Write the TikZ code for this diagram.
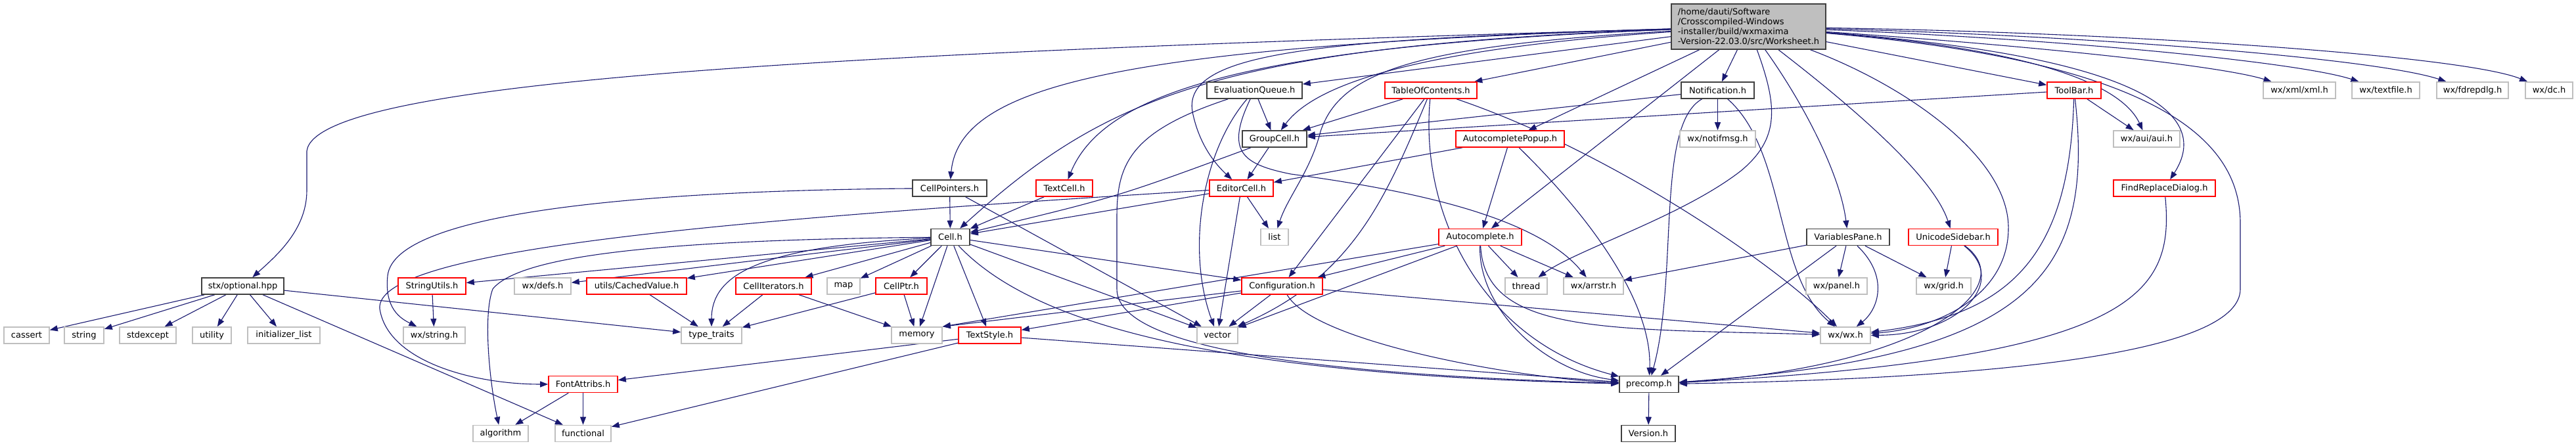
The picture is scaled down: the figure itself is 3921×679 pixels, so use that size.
\documentclass[tikz,border=0pt]{standalone}
\usepackage{fontspec}
\setmainfont{DejaVu Sans}
\usetikzlibrary{arrows.meta}
\definecolor{edgec}{HTML}{191970}
\definecolor{boxgray}{HTML}{BFBFBF}
\definecolor{boxdark}{HTML}{404040}
\definecolor{boxred}{HTML}{FF0000}
\pgfdeclarelayer{bg}
\pgfsetlayers{bg,main}
\begin{document}
\begin{tikzpicture}[x=1pt,y=-1pt,
 nd/.style={draw, line width=1.6pt, minimum height=25pt, inner sep=0pt, fill=white, font=\fontsize{13}{15}\selectfont},
 bk/.style={nd, draw=boxdark},
 rd/.style={nd, draw=boxred},
 gy/.style={nd, draw=boxgray},
 ed/.style={draw=edgec, line width=1.1pt, -{Triangle[length=12pt,width=9pt]}},
]
\useasboundingbox (0,0) rectangle (3921,679);
% row 0
\node[bk, fill=boxgray, minimum width=235pt, minimum height=69pt, align=left] (W) at (2661.5,40.5) {/home/dauti/Software\\/Crosscompiled-Windows\\-installer/build/wxmaxima\\-Version-22.03.0/src/Worksheet.h};
% row 1
\node[bk, minimum width=145pt] (EQ) at (1909.5,137.5) {EvaluationQueue.h};
\node[rd, minimum width=140pt] (TOC) at (2178,137.5) {TableOfContents.h};
\node[bk, minimum width=111pt] (NOT) at (2614.5,137.5) {Notification.h};
\node[rd, minimum width=82pt] (TB) at (3157,137.5) {ToolBar.h};
\node[gy, minimum width=110pt] (XML) at (3500,137.5) {wx/xml/xml.h};
\node[gy, minimum width=103pt] (TXF) at (3631.5,137.5) {wx/textfile.h};
\node[gy, minimum width=109pt] (FRP) at (3763.5,137.5) {wx/fdrepdlg.h};
\node[gy, minimum width=72pt] (DC) at (3880,137.5) {wx/dc.h};
% row 2
\node[bk, minimum width=98pt] (GC) at (1940,211.5) {GroupCell.h};
\node[rd, minimum width=165pt] (ACP) at (2298.5,211.5) {AutocompletePopup.h};
\node[gy, minimum width=115pt] (NMSG) at (2614.5,211.5) {wx/notifmsg.h};
\node[gy, minimum width=101pt] (AUI) at (3267.5,211.5) {wx/aui/aui.h};
% row 3
\node[bk, minimum width=113pt] (CP) at (1445.5,286.5) {CellPointers.h};
\node[rd, minimum width=86pt] (TC) at (1620,286.5) {TextCell.h};
\node[rd, minimum width=97pt] (EC) at (1889.5,286.5) {EditorCell.h};
\node[rd, minimum width=155pt] (FRD) at (3294.5,286.5) {FindReplaceDialog.h};
% row 4
\node[bk, minimum width=59pt] (CELL) at (1446.5,361) {Cell.h};
\node[gy, minimum width=42pt] (LIST) at (1940,361) {list};
\node[rd, minimum width=126pt] (AC) at (2253,361) {Autocomplete.h};
\node[bk, minimum width=126pt] (VP) at (2813,361) {VariablesPane.h};
\node[rd, minimum width=136pt] (US) at (2973,361) {UnicodeSidebar.h};
% row 5
\node[bk, minimum width=125pt] (STX) at (369.5,435.5) {stx/optional.hpp};
\node[rd, minimum width=103pt] (SU) at (657.5,435.5) {StringUtils.h};
\node[gy, minimum width=86pt] (DEFS) at (826,435.5) {wx/defs.h};
\node[rd, minimum width=152pt] (CV) at (969,435.5) {utils/CachedValue.h};
\node[rd, minimum width=115pt] (CI) at (1177.5,435.5) {CellIterators.h};
\node[gy, minimum width=50pt] (MAP) at (1284,435.5) {map};
\node[rd, minimum width=78pt] (CPTR) at (1372,435.5) {CellPtr.h};
\node[rd, minimum width=123pt] (CONF) at (1951.5,435.5) {Configuration.h};
\node[gy, minimum width=64pt] (THR) at (2323,435.5) {thread};
\node[gy, minimum width=91pt] (ARR) at (2425.5,435.5) {wx/arrstr.h};
\node[gy, minimum width=93pt] (PNL) at (2795.5,435.5) {wx/panel.h};
\node[gy, minimum width=83pt] (GRID) at (2958.5,435.5) {wx/grid.h};
% row 6
\node[gy, minimum width=69pt] (CAS) at (40.5,510.5) {cassert};
\node[gy, minimum width=60pt] (STR) at (128,510.5) {string};
\node[gy, minimum width=86pt] (SEX) at (225,510.5) {stdexcept};
\node[gy, minimum width=59pt] (UTIL) at (322.5,510.5) {utility};
\node[gy, minimum width=110pt] (INIT) at (432,510.5) {initializer\_list};
\node[gy, minimum width=94pt] (WXS) at (661,510.5) {wx/string.h};
\node[gy, minimum width=92pt] (TT) at (1083,510.5) {type\_traits};
\node[gy, minimum width=77pt] (MEM) at (1395.5,510.5) {memory};
\node[rd, minimum width=95pt] (TS) at (1506.5,510.5) {TextStyle.h};
\node[gy, minimum width=62pt] (VEC) at (1853,510.5) {vector};
\node[gy, minimum width=76pt] (WXWX) at (2809,510.5) {wx/wx.h};
% row 7
\node[rd, minimum width=105pt] (FA) at (887.5,585) {FontAttribs.h};
\node[bk, minimum width=90pt] (PRE) at (2510,585) {precomp.h};
% row 8
\node[gy, minimum width=84pt] (ALG) at (762,660) {algorithm};
\node[gy, minimum width=85pt] (FUN) at (887.5,660) {functional};
\node[bk, minimum width=82pt] (VER) at (2509,660) {Version.h};

\begin{pgfonlayer}{bg}
% Worksheet.h
\draw[ed] (W) .. controls (1300,80) and (480,120) .. (467,230) -- (467,290) .. controls (467,350) and (420,390) .. (STX);
\draw[ed] (W) .. controls (1700,70) and (1460,130) .. (CP);
\draw[ed] (W) .. controls (1850,70) and (1680,150) .. (CELL);
\draw[ed] (W) .. controls (1900,70) and (1680,140) .. (TC);
\draw[ed] (W) .. controls (2000,60) and (1800,80) .. (1815,170) .. controls (1825,220) and (1850,250) .. (EC);
\draw[ed] (W) -- (EQ);
\draw[ed] (W) .. controls (2150,75) and (2000,130) .. (GC);
\draw[ed] (W) .. controls (2150,70) and (2040,110) .. (2010,200) .. controls (1995,260) and (1960,300) .. (LIST);
\draw[ed] (W) -- (TOC);
\draw[ed] (W) -- (ACP);
\draw[ed] (W) -- (AC);
\draw[ed] (W) -- (NOT);
\draw[ed] (W) .. controls (2705,160) and (2710,210) .. (2650,260) .. controls (2560,330) and (2400,380) .. (THR);
\draw[ed] (W) .. controls (2740,150) and (2800,260) .. (VP);
\draw[ed] (W) .. controls (2790,140) and (2940,260) .. (US);
\draw[ed] (W) .. controls (2900,130) and (3060,240) .. (3057,350) .. controls (3055,450) and (2950,500) .. (WXWX);
\draw[ed] (W) -- (TB);
\draw[ed] (W) .. controls (3100,75) and (3230,130) .. (AUI);
\draw[ed] (W) .. controls (3250,85) and (3370,170) .. (FRD);
\draw[ed] (W) .. controls (3300,95) and (3410,220) .. (3410,340) -- (3410,440) .. controls (3410,530) and (3100,575) .. (PRE);
\draw[ed] (W) .. controls (3100,70) and (3380,100) .. (XML);
\draw[ed] (W) .. controls (3150,60) and (3500,95) .. (TXF);
\draw[ed] (W) .. controls (3200,55) and (3620,90) .. (FRP);
\draw[ed] (W) .. controls (3250,50) and (3750,85) .. (DC);
% EvaluationQueue.h
\draw[ed] (EQ) -- (GC);
\draw[ed] (EQ) .. controls (1830,230) and (1805,380) .. (VEC);
\draw[ed] (EQ) .. controls (1720,200) and (1700,250) .. (1700,330) -- (1700,440) .. controls (1700,530) and (2000,570) .. (PRE);
\draw[ed] (EQ) .. controls (1865,230) and (1890,250) .. (1965,265) .. controls (2150,290) and (2340,330) .. (ARR);
% TableOfContents.h
\draw[ed] (TOC) -- (GC);
\draw[ed] (TOC) -- (CONF);
\draw[ed] (TOC) .. controls (2110,300) and (2060,420) .. (VEC);
\draw[ed] (TOC) .. controls (2160,330) and (2260,520) .. (PRE);
\draw[ed] (TOC) .. controls (2450,230) and (2700,400) .. (WXWX);
% Notification.h
\draw[ed] (NOT) -- (GC);
\draw[ed] (NOT) -- (NMSG);
\draw[ed] (NOT) .. controls (2520,190) and (2555,420) .. (PRE);
\draw[ed] (NOT) .. controls (2720,230) and (2700,420) .. (WXWX);
% ToolBar.h
\draw[ed] (TB) -- (GC);
\draw[ed] (TB) -- (AUI);
\draw[ed] (TB) .. controls (3150,390) and (3060,480) .. (WXWX);
\draw[ed] (TB) .. controls (3190,430) and (3080,545) .. (PRE);
% AutocompletePopup.h
\draw[ed] (ACP) -- (EC);
\draw[ed] (ACP) -- (AC);
\draw[ed] (ACP) .. controls (2420,330) and (2515,460) .. (PRE);
% GroupCell.h, TextCell.h, CellPointers.h, EditorCell.h
\draw[ed] (GC) .. controls (1700,300) .. (CELL);
\draw[ed] (GC) -- (EC);
\draw[ed] (TC) -- (CELL);
\draw[ed] (CP) -- (CELL);
\draw[ed] (CP) -- (VEC);
\draw[ed] (CP) .. controls (1000,290) and (600,320) .. (590,420) .. controls (585,470) and (610,485) .. (WXS);
\draw[ed] (EC) -- (CELL);
\draw[ed] (EC) -- (LIST);
\draw[ed] (EC) -- (VEC);
\draw[ed] (EC) .. controls (1100,335) and (570,380) .. (578,470) .. controls (590,550) and (720,585) .. (FA);
% FindReplaceDialog.h
\draw[ed] (FRD) .. controls (3310,450) and (3250,545) .. (PRE);
% Cell.h
\draw[ed] (CELL) -- (SU);
\draw[ed] (CELL) -- (DEFS);
\draw[ed] (CELL) -- (CV);
\draw[ed] (CELL) .. controls (1000,365) and (790,390) .. (750,440) .. controls (735,480) and (745,580) .. (ALG);
\draw[ed] (CELL) .. controls (1150,375) and (1083,420) .. (TT);
\draw[ed] (CELL) -- (CI);
\draw[ed] (CELL) -- (MAP);
\draw[ed] (CELL) -- (CPTR);
\draw[ed] (CELL) -- (MEM);
\draw[ed] (CELL) -- (TS);
\draw[ed] (CELL) -- (CONF);
\draw[ed] (CELL) -- (VEC);
\draw[ed] (CELL) .. controls (1560,480) and (1800,570) .. (PRE);
% small headers
\draw[ed] (CI) -- (TT);
\draw[ed] (CI) -- (MEM);
\draw[ed] (CPTR) -- (TT);
\draw[ed] (CPTR) -- (MEM);
\draw[ed] (CV) -- (TT);
\draw[ed] (SU) -- (WXS);
% stx/optional.hpp
\draw[ed] (STX) -- (CAS);
\draw[ed] (STX) -- (STR);
\draw[ed] (STX) -- (SEX);
\draw[ed] (STX) -- (UTIL);
\draw[ed] (STX) -- (INIT);
\draw[ed] (STX) -- (TT);
\draw[ed] (STX) -- (FUN);
% FontAttribs.h, TextStyle.h
\draw[ed] (FA) -- (ALG);
\draw[ed] (FA) -- (FUN);
\draw[ed] (TS) -- (FA);
\draw[ed] (TS) -- (FUN);
\draw[ed] (TS) -- (PRE);
% Configuration.h
\draw[ed] (CONF) -- (TS);
\draw[ed] (CONF) -- (MEM.north east);
\draw[ed] (CONF) -- (VEC);
\draw[ed] (CONF) .. controls (2000,520) and (2300,575) .. (PRE);
\draw[ed] (CONF) -- (WXWX);
% Autocomplete.h
\draw[ed] (AC) -- (MEM.north east);
\draw[ed] (AC) -- (CONF);
\draw[ed] (AC) -- (VEC);
\draw[ed] (AC) .. controls (2250,470) and (2350,565) .. (PRE);
\draw[ed] (AC) .. controls (2260,510) and (2450,500) .. (WXWX);
\draw[ed] (AC) -- (THR);
\draw[ed] (AC) -- (ARR);
% VariablesPane.h
\draw[ed] (VP) -- (ARR);
\draw[ed] (VP) -- (PRE);
\draw[ed] (VP) -- (PNL);
\draw[ed] (VP) -- (GRID);
\draw[ed] (VP) .. controls (2875,420) and (2860,470) .. (WXWX);
% UnicodeSidebar.h
\draw[ed] (US) -- (GRID);
\draw[ed] (US) .. controls (3060,430) and (2980,510) .. (WXWX);
\draw[ed] (US) .. controls (3080,440) and (2920,560) .. (PRE);
% precomp.h
\draw[ed] (PRE) -- (VER);
\end{pgfonlayer}
\end{tikzpicture}
\end{document}
